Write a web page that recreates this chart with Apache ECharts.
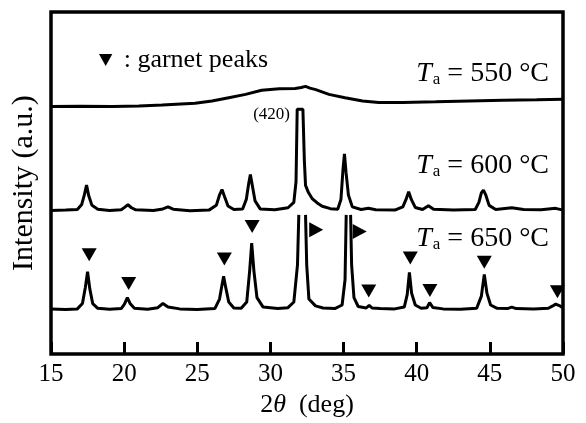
<!DOCTYPE html>
<html>
<head>
<meta charset="utf-8">
<script src="https://cdn.jsdelivr.net/npm/echarts@6/dist/echarts.min.js"></script>
<style>
  html, body { margin: 0; padding: 0; background: #fff; }
  #xrd { width: 586px; height: 423px; }
</style>
</head>
<body>
<div id="xrd"></div>
<script>
// 2theta (deg), intensity (a.u., traces stacked as in the figure)
var trace550 = [
  [15.0, 83.2], [17.0, 83.3], [19.2, 83.2], [21.0, 83.4], [22.6, 83.7], [24.85, 84.3],
  [26.0, 85.1], [27.15, 86.2], [28.3, 87.3], [29.4, 88.7], [30.6, 89.2], [31.7, 89.3],
  [32.1, 89.6], [32.4, 90.0], [32.7, 89.4], [33.1, 88.9], [34.0, 87.3], [35.1, 86.2],
  [36.3, 85.1], [37.4, 84.6], [39.0, 84.6], [41.3, 84.8], [43.6, 85.1], [45.9, 85.3],
  [48.2, 85.5], [50.0, 85.7]
];
var trace600 = [
  [15.0, 48.3], [16.0, 48.4], [16.8, 48.6], [17.1, 50.3], [17.28, 53.5], [17.43, 56.8],
  [17.58, 53.2], [17.8, 50.0], [18.2, 48.7], [19.0, 48.3], [19.8, 48.5], [20.05, 49.4],
  [20.26, 50.2], [20.5, 49.2], [20.8, 48.5], [22.0, 48.3], [22.65, 48.8], [23.0, 49.5],
  [23.35, 48.7], [24.5, 48.2], [25.8, 48.4], [26.3, 50.0], [26.52, 53.5], [26.69, 55.3],
  [26.86, 53.0], [27.1, 49.8], [27.5, 48.6], [28.1, 48.8], [28.35, 52.0], [28.52, 57.5],
  [28.63, 60.4], [28.75, 57.0], [28.95, 51.5], [29.3, 48.8], [30.3, 48.5], [31.2, 49.2],
  [31.6, 51.0], [31.75, 58.0], [31.83, 82.3], [32.22, 82.3], [32.32, 65.0], [32.4, 56.7],
  [32.6, 54.3], [32.85, 52.3], [33.2, 50.8], [33.54, 49.7], [34.1, 48.9], [34.6, 48.7],
  [34.82, 52.0], [34.96, 62.0], [35.06, 67.3], [35.17, 61.0], [35.33, 53.5], [35.6, 49.5],
  [36.2, 48.6], [36.7, 49.0], [37.2, 48.5], [38.5, 48.4], [39.05, 49.5], [39.27, 52.0],
  [39.45, 54.6], [39.63, 52.0], [39.9, 49.3], [40.4, 48.6], [40.8, 49.9], [41.15, 48.7],
  [42.5, 48.4], [44.0, 48.6], [44.25, 51.0], [44.42, 54.2], [44.56, 55.1], [44.72, 53.5],
  [44.95, 50.0], [45.4, 48.6], [46.5, 49.2], [47.3, 48.6], [48.5, 48.5], [49.5, 49.0],
  [50.0, 48.4]
];
// '-' = gap where the strong peaks run off the top of their panel
var trace650 = [
  [15.0, 15.2], [16.0, 15.0], [16.8, 15.2], [17.15, 17.0], [17.35, 22.5], [17.5, 27.7],
  [17.65, 22.0], [17.85, 17.0], [18.2, 15.4], [19.0, 15.1], [19.8, 15.3], [20.02, 16.8],
  [20.22, 19.0], [20.42, 16.9], [20.7, 15.4], [21.6, 15.1], [22.3, 15.6], [22.65, 17.0],
  [23.0, 15.8], [23.8, 15.2], [25.0, 15.0], [26.2, 15.3], [26.52, 18.5], [26.68, 23.0],
  [26.8, 26.2], [26.94, 22.5], [27.15, 17.5], [27.5, 15.5], [28.0, 15.4], [28.38, 17.5],
  [28.58, 28.0], [28.72, 37.3], [28.87, 28.0], [29.08, 19.0], [29.5, 15.8], [30.5, 15.3],
  [31.2, 15.6], [31.6, 17.5], [31.85, 30.0], [31.94, 46.8], [32.17, '-'], [32.4, 46.8],
  [32.48, 30.0], [32.63, 18.5], [33.08, 16.2], [33.6, 15.5], [34.4, 15.3], [34.9, 16.5],
  [35.1, 25.0], [35.18, 46.8], [35.33, '-'], [35.48, 46.8], [35.55, 30.0], [35.71, 19.0],
  [36.0, 16.0], [36.55, 15.5], [36.75, 16.4], [36.95, 15.5], [37.5, 15.3], [38.5, 15.2],
  [39.15, 15.8], [39.35, 20.0], [39.5, 27.5], [39.65, 20.5], [39.9, 16.5], [40.3, 15.4],
  [40.7, 15.6], [40.88, 17.3], [41.1, 15.7], [41.8, 15.2], [43.0, 15.1], [44.1, 15.4],
  [44.42, 19.5], [44.62, 26.8], [44.8, 20.5], [45.05, 16.5], [45.5, 15.4], [46.2, 15.3],
  [46.5, 15.8], [46.8, 15.3], [48.0, 15.2], [49.0, 15.4], [49.3, 16.2], [49.5, 16.8],
  [49.75, 16.3], [50.0, 15.5]
];
// garnet peak markers of the 650 C pattern
var garnetDown = [
  [17.61, 33.4], [20.31, 23.7], [26.85, 32.0], [28.75, 42.9], [36.72, 21.2],
  [39.56, 32.3], [40.9, 21.4], [44.62, 30.9], [49.62, 21.0]
];
var garnetRight = [[33.13, 41.8], [36.1, 41.2]];

var xTicks = { min: 15, max: 50, step: 5 };

var serif = 'Liberation Serif';
var ink = '#000';

var chart = echarts.init(document.getElementById('xrd'));

function trace(name, data) {
  return {
    name: name,
    type: 'line',
    data: data,
    showSymbol: false,
    connectNulls: false,
    lineStyle: { color: ink, width: 3 },
    silent: true
  };
}

var taRich = {
  i: { fontStyle: 'italic', fontSize: 28, fontFamily: serif },
  s: { fontSize: 17, fontFamily: serif, padding: [12, 0, 0, 1] }
};

function taLabel(text, top) {
  return {
    type: 'text',
    right: 37,
    top: top,
    style: {
      text: '{i|T}{s|a} = ' + text,
      rich: taRich,
      fontSize: 28,
      fontFamily: serif,
      fill: ink
    }
  };
}

chart.setOption({
  animation: false,
  grid: {
    left: 51, right: 23, top: 12, bottom: 66,
    show: true, borderColor: ink, borderWidth: 3.5
  },
  legend: {
    left: 94,
    top: 42,
    itemWidth: 14,
    itemHeight: 12,
    data: [{ name: ': garnet peaks', icon: 'path://M0,0L10,0L5,9Z', itemStyle: { color: ink, opacity: 1 } }],
    textStyle: { fontFamily: serif, fontSize: 26, color: ink, padding: [0, 0, 0, 6] },
    selectedMode: false
  },
  xAxis: {
    type: 'value',
    min: xTicks.min,
    max: xTicks.max,
    interval: xTicks.step,
    name: '2{i|θ}  (deg)',
    nameLocation: 'middle',
    nameGap: 37,
    nameTextStyle: {
      fontFamily: serif, fontSize: 26, color: ink,
      rich: { i: { fontStyle: 'italic', fontFamily: serif, fontSize: 26 } }
    },
    axisLine: { show: false },
    axisTick: { inside: true, length: 12, lineStyle: { color: ink, width: 3 } },
    axisLabel: { fontFamily: serif, fontSize: 25, color: ink, margin: 8 },
    splitLine: { show: false }
  },
  yAxis: {
    type: 'value',
    min: 0,
    max: 115,
    name: 'Intensity (a.u.)',
    nameLocation: 'middle',
    nameGap: 12,
    nameTextStyle: { fontFamily: serif, fontSize: 30, color: ink },
    axisLine: { show: false },
    axisTick: { show: false },
    axisLabel: { show: false },
    splitLine: { show: false }
  },
  series: [
    trace('550', trace550),
    trace('600', trace600),
    trace('650', trace650),
    {
      name: ': garnet peaks',
      type: 'scatter',
      data: garnetDown,
      symbol: 'path://M0,0L10,0L5,9Z',
      symbolSize: [15, 13],
      itemStyle: { color: ink, opacity: 1 },
      silent: true
    },
    {
      name: ': garnet peaks',
      type: 'scatter',
      data: garnetRight,
      symbol: 'path://M0,0L9,5L0,10Z',
      symbolSize: [14, 15],
      itemStyle: { color: ink, opacity: 1 },
      silent: true
    }
  ],
  graphic: [
    taLabel('550 °C', 60),
    taLabel('600 °C', 152),
    taLabel('650 °C', 225),
    {
      type: 'text',
      right: 296,
      top: 106,
      style: { text: '(420)', fontSize: 17, fontFamily: serif, fill: ink }
    }
  ]
});
</script>
</body>
</html>
